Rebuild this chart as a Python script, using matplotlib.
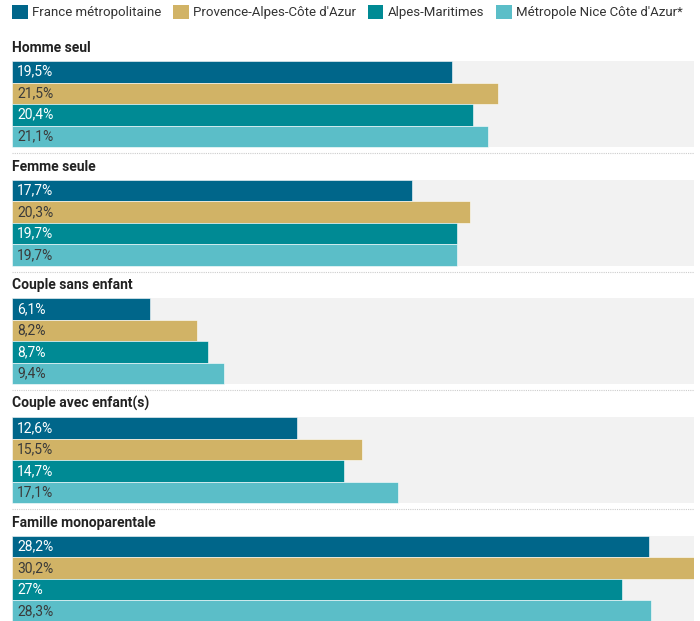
import matplotlib.pyplot as plt
from matplotlib.patches import Patch

plt.rcParams['font.family'] = ['Roboto', 'DejaVu Sans']

# data
groups = ['Homme seul', 'Femme seule', 'Couple sans enfant',
          'Couple avec enfant(s)', 'Famille monoparentale']
series = ['France métropolitaine', 'Provence-Alpes-Côte d\'Azur',
          'Alpes-Maritimes', 'Métropole Nice Côte d\'Azur*']
france = [19.5, 17.7, 6.1, 12.6, 28.2]
paca = [21.5, 20.3, 8.2, 15.5, 30.2]
alpes_mar = [20.4, 19.7, 8.7, 14.7, 27.0]
metropole = [21.1, 19.7, 9.4, 17.1, 28.3]
labels = [
    ['19,5%', '21,5%', '20,4%', '21,1%'],
    ['17,7%', '20,3%', '19,7%', '19,7%'],
    ['6,1%', '8,2%', '8,7%', '9,4%'],
    ['12,6%', '15,5%', '14,7%', '17,1%'],
    ['28,2%', '30,2%', '27%', '28,3%'],
]

colors = ['#00668a', '#d1b366', '#008a94', '#5bbec8']
text_colors = ['white', '#3a3a3a', 'white', '#3a3a3a']

W, H = 700, 621
fig = plt.figure(figsize=(W / 100, H / 100), dpi=100)
left, right = 12, 694
ax = fig.add_axes([left / W, 0, (right - left) / W, 1])
xmax = max(paca)
ax.set_xlim(0, xmax)
ax.set_ylim(H, 0)
ax.axis('off')

group_top = 61      # top of first bar block (px)
pitch = 118.7       # distance between groups
bar_h = 21.5

values = [france, paca, alpes_mar, metropole]
for g, name in enumerate(groups):
    top = group_top + g * pitch
    # grey background band
    ax.barh(top + 2 * bar_h, xmax, height=4 * bar_h, left=0,
            color='#f2f2f2', zorder=0)
    ax.text(0, top - 6, name, fontsize=10, fontweight='bold',
            color='#222222', va='bottom', ha='left')
    for s in range(4):
        yc = top + s * bar_h + bar_h / 2
        ax.barh(yc, values[s][g], height=bar_h, color=colors[s],
                edgecolor='white', linewidth=0.4, zorder=2)
        ax.text(xmax * 5 / (right - left), yc, labels[g][s], fontsize=10,
                color=text_colors[s], va='center', ha='left', zorder=3)
    if g < len(groups) - 1:
        ysep = top + 4 * bar_h + 6
        ax.plot([0, xmax], [ysep, ysep], color='#cccccc', linewidth=0.8,
                linestyle=(0, (1, 1)), zorder=1)

handles = [Patch(facecolor=c, edgecolor='none') for c in colors]
fig.legend(handles, series, loc='upper left', bbox_to_anchor=(12 / W, 1 - 5 / H),
           ncol=4, frameon=False, fontsize=9.5, handlelength=1.2,
           handleheight=1.2, handletextpad=0.35, columnspacing=0.85,
           borderaxespad=0, borderpad=0, labelcolor='#333333')

fig.savefig('out.png', dpi=100)
